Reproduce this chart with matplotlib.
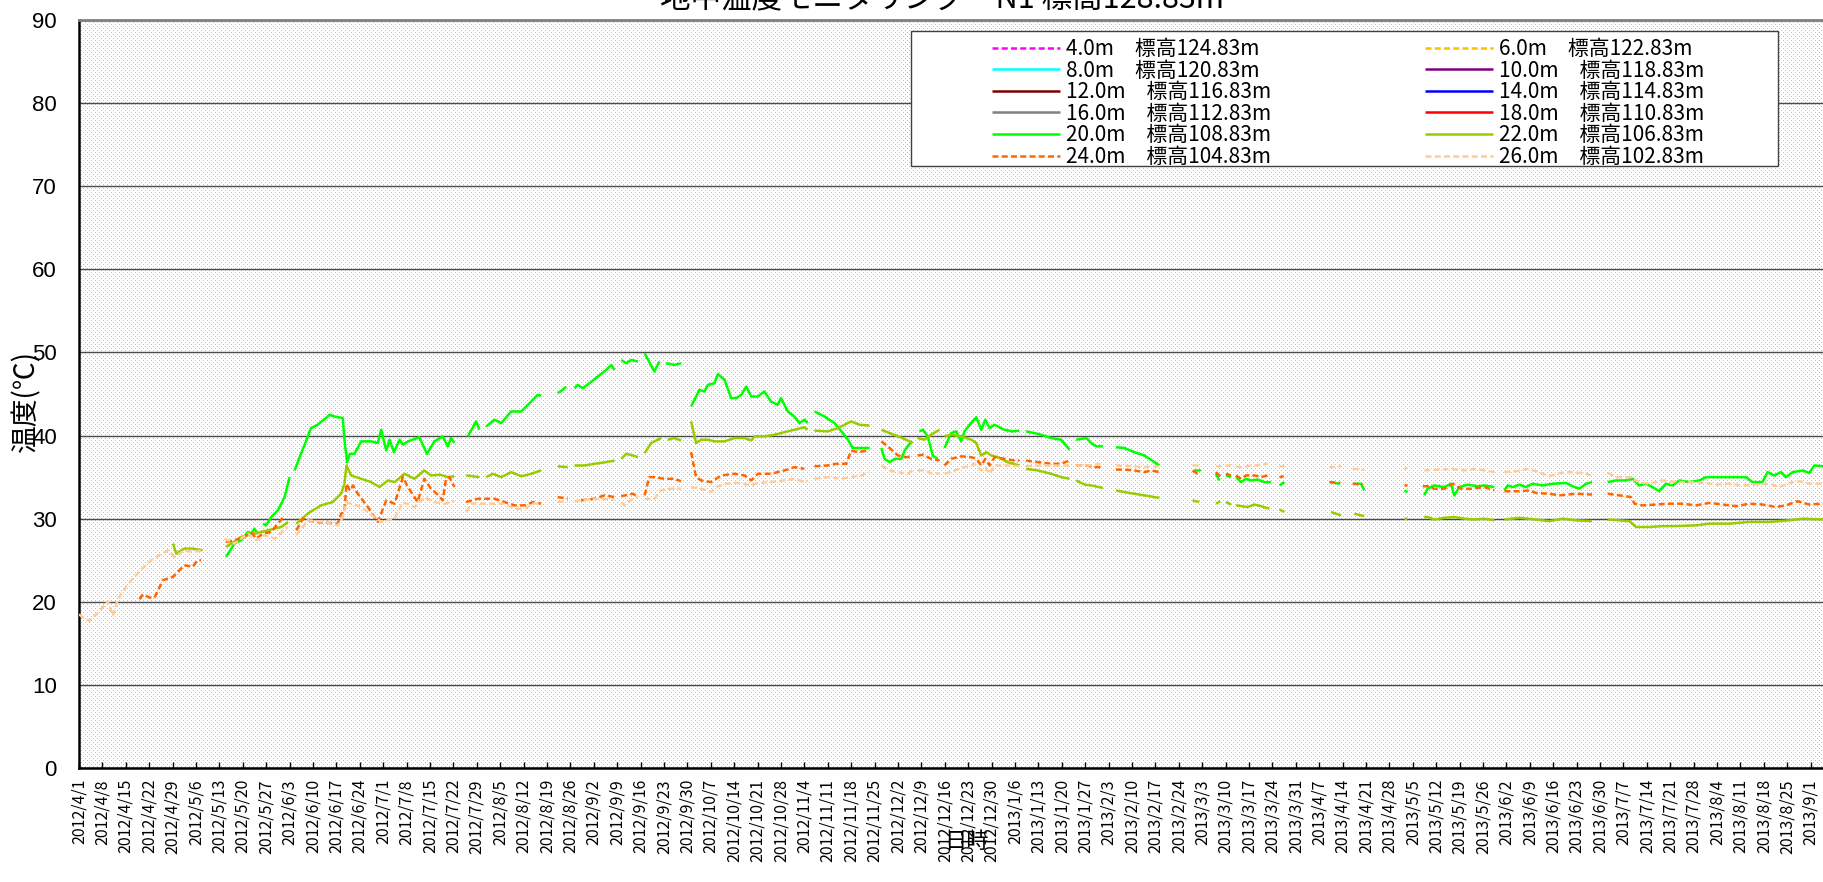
import numpy as np
import matplotlib
matplotlib.use("Agg")
import matplotlib.pyplot as plt
import matplotlib.dates as mdates
from matplotlib.ticker import FixedLocator, FuncFormatter
from matplotlib.patches import Rectangle

plt.rcParams['font.family'] = ['Liberation Sans', 'Noto Sans CJK JP', 'DejaVu Sans']
CJK = ['Noto Sans CJK JP', 'DejaVu Sans']

TITLE = "地中温度モニタリング　N1 標高128.83m"
X_LABEL = "日時"
Y_LABEL = "温度(℃)"
start_date = "2012-04-01"
end_date = "2013-09-05"
tick_start = "2012-04-01"
tick_end = "2013-09-01"
y_ticks = [0, 10, 20, 30, 40, 50, 60, 70, 80, 90]

depths = ["4.0", "6.0", "8.0", "10.0", "12.0", "14.0", "16.0", "18.0", "20.0", "22.0", "24.0", "26.0"]
elevations = ["124.83", "122.83", "120.83", "118.83", "116.83", "114.83",
              "112.83", "110.83", "108.83", "106.83", "104.83", "102.83"]
colors = ["#FF00FF", "#FFC000", "#00FFFF", "#800080", "#800000", "#0000FF",
          "#808080", "#FF0000", "#00FF00", "#99CC00", "#FF6600", "#FFCC99"]
dashed = [True, True, False, False, False, False, False, False, False, False, True, True]

# (days since 2012-04-01, temperature); None = gap in the record
t04 = []
t06 = []
t08 = []
t10 = []
t12 = []
t14 = []
t16 = []
t18 = []
t20 = [(44, 25.4), (46.5, 27.0), (48.5, 27.4), (50.5, 28.4), (51.5, 28.2), (52.5, 28.8), (53.3, 28.2), None,
       (55, 29.4), (56, 29.2), (57.5, 30.2), (59.5, 31.0), (61.5, 32.6), (63, 35.0), None,
       (64.5, 35.8), (66, 37.4), (67.5, 38.9), (69.4, 40.9), (71.4, 41.3), (75, 42.5), (76.4, 42.3), (78.9, 42.1),
       (79.4, 39.5), (80.2, 36.8), (81, 37.8), (82.4, 37.8), (84.4, 39.3), (87.4, 39.3), (89.4, 39.1), (90.4, 40.7),
       (91.9, 38.2), (92.9, 39.5), (94.2, 38.0), (95.9, 39.5), (96.9, 38.9), (98.4, 39.3), (101.8, 39.8),
       (104.1, 37.8), (106.3, 39.3), (108.8, 39.9), (110.3, 38.7), (111.3, 39.7), (112.3, 39.1), None,
       (116.3, 39.9), (118.8, 41.7), (119.8, 40.7), None,
       (121.8, 41.1), (124.3, 41.9), (126.3, 41.5), (129.3, 42.9), (132.3, 42.9), (135.3, 44.1), (137.2, 44.9), (138.2, 44.8), None,
       (143.2, 45.1), (144.7, 45.5), (145.7, 45.9), None,
       (148.2, 45.7), (149.2, 46.1), (150.7, 45.7), (152.7, 46.3), (155.2, 47.1), (157.7, 47.9), (159.2, 48.5), (160.2, 47.9), None,
       (162.2, 49.1), (163.7, 48.7), (165.2, 49.1), (167.2, 48.9), None,
       (169.2, 49.9), (172.1, 47.7), (173.6, 48.9), None,
       (175.6, 48.7), (178.1, 48.5), (180.1, 48.7), None,
       (183.1, 43.5), (184.1, 44.3), (185.6, 45.5), (187.1, 45.3), (188.1, 46.1), (190.1, 46.3), (191.1, 47.4), (193.1, 46.7),
       (195.1, 44.5), (196.6, 44.5), (198.1, 44.9), (199.6, 45.9), (201.1, 44.7), (203.1, 44.7), (205, 45.3), (207, 44.1),
       (209, 43.7), (210, 44.5), (212, 42.9), (214, 42.3), (215.5, 41.5), (217, 41.9), (218, 41.5), None,
       (220, 42.9), (223, 42.3), (226, 41.5), (228.5, 40.3), (230, 39.5), (231.5, 38.5), (233, 38.5), (236.5, 38.5), None,
       (240, 38.5), (241, 37.2), (242.5, 36.8), (244, 37.2), (246, 37.2), (247, 38.2), (249, 39.3), None,
       (251.4, 40.5), (252.4, 40.7), (253.9, 39.9), (255.4, 37.6), (256.9, 37.2), None,
       (258.9, 38.5), (260.9, 40.3), (262.4, 40.5), (263.9, 39.3), (264.9, 40.5), (266.4, 41.3), (268.4, 42.2), (269.9, 40.7),
       (271.1, 41.9), (272.4, 40.9), (273.9, 41.3), (276.8, 40.7), (279.3, 40.5), (281.3, 40.6), None,
       (283.3, 40.5), (285.8, 40.3), (287.8, 40.1), (290.8, 39.7), (293.8, 39.5), (296.3, 38.3), None,
       (298.3, 39.5), (301.3, 39.7), (302.8, 39.1), (304.3, 38.7), (306.3, 38.7), None,
       (310.2, 38.6), (312.7, 38.5), (315.7, 38.0), (318.7, 37.6), (321.7, 36.8), (323.2, 36.4), None,
       (333.6, 35.8), (335.6, 35.8), None,
       (340.1, 35.4), (341.1, 34.6), None,
       (343.1, 35.2), (344.6, 35.0), None,
       (346.1, 35.0), (347.6, 34.4), (349.1, 34.8), (350.6, 34.6), (352.6, 34.7), (354.6, 34.4), (356.6, 34.4), None,
       (359.1, 34.0), (360.6, 34.4), None,
       (374.5, 34.4), (377, 34.2), None,
       (381.5, 34.2), (383.5, 34.2), (384.5, 33.4), None,
       (396.5, 33.4), (397.4, 33.2), None,
       (402.4, 32.8), (403.4, 33.6), (405.4, 34.0), (408.4, 33.8), (410.4, 34.2), (411.4, 32.8), (412.9, 33.8),
       (415.4, 34.1), (418.4, 33.9), (420.4, 34.0), (423.4, 33.8), None,
       (426.4, 33.4), (427.4, 34.0), (429, 33.8), (430.9, 34.1), (432.8, 33.8), (434.8, 34.2), (437.8, 34.0), (440.8, 34.2),
       (444.8, 34.3), (446.8, 33.9), (448.8, 33.6), (450.8, 34.2), (452.6, 34.4), None,
       (457.3, 34.4), (459.8, 34.6), (462.8, 34.6), (464.8, 34.8), (466.7, 34.0), (468.7, 34.2), (470.7, 33.8), (472.7, 33.3),
       (474.7, 34.2), (476.7, 34.0), (478.7, 34.6), (481.7, 34.4), (484.7, 34.6), (486.7, 35.0), (490.7, 35.0), (494.7, 35.0),
       (498.7, 35.0), (500.6, 34.4), (503.6, 34.4), (505.1, 35.6), (507.1, 35.2), (509.1, 35.6), (510.6, 35.0), (512.6, 35.6),
       (515.6, 35.8), (517.6, 35.5), (519.1, 36.4), (521.8, 36.3)]
t22 = [(28.1, 27.0), (29.1, 25.8), (31.5, 26.4), (34, 26.4), (37, 26.2), None,
       (44, 26.6), (48.5, 27.8), (52.5, 28.2), (56.5, 28.6), (60.5, 29.0), (62.5, 29.6), None,
       (65, 29.4), (68.4, 30.6), (72.4, 31.6), (75.9, 32.0), (78.4, 33.0), (79.4, 34.2), (80, 36.4), (81.4, 35.2),
       (84.4, 34.8), (87.4, 34.4), (89.9, 33.8), (92.4, 34.6), (94.4, 34.4), (97.4, 35.4), (100.3, 34.8), (103.3, 35.8),
       (105.3, 35.2), (108, 35.3), (110.3, 35.0), (112.3, 35.1), None,
       (115.8, 35.2), (119.8, 35.0), None,
       (121.8, 35.0), (123.8, 35.4), (126.3, 35.0), (129.3, 35.6), (132.3, 35.1), (135.3, 35.4), (138.2, 35.8), None,
       (143.2, 36.3), (146.2, 36.2), None,
       (148.2, 36.4), (151.2, 36.4), (154.2, 36.6), (157.7, 36.8), (160.2, 37.0), None,
       (162.2, 37.2), (163.7, 37.8), (165.7, 37.6), (167.2, 37.4), None,
       (169.2, 37.9), (171.2, 39.1), (174.1, 39.7), None,
       (176.1, 39.5), (178.1, 39.7), (180.1, 39.4), None,
       (183.1, 41.7), (184.6, 39.1), (186.1, 39.5), (188.1, 39.5), (190.1, 39.3), (193.1, 39.3), (196.1, 39.7), (199.1, 39.7),
       (201.1, 39.4), (202.1, 39.9), (205, 39.9), (208, 40.1), (211, 40.4), (214, 40.7), (217, 41.0), (218, 40.7), None,
       (220, 40.6), (224, 40.5), (227, 40.9), (229, 41.3), (231, 41.7), (233.5, 41.3), (236.5, 41.2), None,
       (240, 40.7), (242.5, 40.3), (245, 39.9), (247.4, 39.5), (249.4, 39.1), None,
       (250.9, 39.7), (252.9, 39.5), (254.9, 40.1), (257.4, 40.7), None,
       (258.9, 39.9), (260.9, 40.1), (263.9, 39.9), (266.9, 39.5), (268.4, 39.1), (269.9, 37.6), (271.4, 38.0), (272.9, 37.6),
       (274.9, 37.4), (277.8, 36.8), (281.3, 36.4), None,
       (283.3, 36.0), (286.8, 35.8), (290.8, 35.4), (293.8, 35.0), (296.3, 34.8), None,
       (298.3, 34.6), (300.8, 34.1), (302.8, 34.0), (306.3, 33.7), None,
       (310.2, 33.4), (312.7, 33.2), (315.7, 33.0), (318.7, 32.8), (321.7, 32.6), (323.2, 32.5), None,
       (333.1, 32.2), (335.1, 32.0), None,
       (340.1, 31.8), (341.4, 32.1), None,
       (343.1, 32.0), (344.6, 31.7), None,
       (346.1, 31.6), (349.6, 31.4), (351.6, 31.7), (353.6, 31.5), (356.1, 31.2), None,
       (359.1, 31.1), (360.6, 30.8), None,
       (374.5, 30.8), (377.5, 30.4), None,
       (381.5, 30.6), (384.5, 30.3), None,
       (396.5, 30.0), (397.4, 30.0), None,
       (402.4, 30.2), (403.4, 30.2), (405.4, 29.9), (408.4, 30.1), (411.4, 30.2), (414.4, 30.0), (417.4, 29.9),
       (420.4, 30.0), (423.4, 29.8), None,
       (426.4, 29.9), (430.9, 30.1), (435.8, 29.9), (439.8, 29.7), (443.8, 30.0), (447.8, 29.8), (452.6, 29.7), None,
       (457.3, 29.9), (463.8, 29.7), (465.8, 29.0), (469.7, 29.0), (473.7, 29.1), (477.7, 29.1), (483.7, 29.2), (487.7, 29.4),
       (493.7, 29.4), (499.6, 29.6), (505.6, 29.6), (511.6, 29.8), (515.6, 30.0), (521.8, 29.9)]
t24 = [(18.1, 20.3), (19.1, 20.9), (21.1, 20.5), (22.6, 20.5), (25.1, 22.6), (28.1, 23.0), (31.5, 24.4), (34, 24.2),
       (35.5, 25.0), (36.5, 25.0), None,
       (44, 27.2), (46.5, 27.4), (49.5, 27.8), (51.5, 28.4), (53, 27.6), (55, 28.2), (57.5, 28.4), (59.5, 29.4), (61.5, 30.4), None,
       (65, 28.6), (67, 30.0), (70.4, 29.6), (74.4, 29.5), (77.4, 29.4), (78.4, 30.6), (79.4, 30.8), (80, 34.2), (81, 33.4),
       (82, 34.0), (83.4, 33.0), (86.4, 31.4), (89.4, 29.6), (91.9, 32.2), (94.4, 31.8), (96.9, 35.0), (98.4, 33.8),
       (101.3, 32.0), (103.3, 34.8), (105.3, 33.6), (107.3, 32.9), (108.8, 32.2), (109.8, 34.8), (110.8, 35.0), (112.3, 33.8), None,
       (115.8, 32.0), (119.3, 32.4), (124.3, 32.4), (127.3, 32.0), (130.3, 31.6), (133.3, 31.6), (135.8, 32.0), (138.2, 31.8), None,
       (143.2, 32.6), (146.2, 32.4), None,
       (150.2, 32.2), (154.2, 32.4), (157.2, 32.8), (160.2, 32.6), None,
       (162.2, 32.7), (165.7, 33.0), (167.2, 32.6), None,
       (169.2, 32.8), (170.6, 35.0), (172.1, 35.0), (175.1, 34.8), (178.1, 34.8), (180.1, 34.5), None,
       (183.1, 38.0), (184.6, 35.0), (186.1, 34.6), (189.1, 34.4), (192.1, 35.2), (196.1, 35.4), (199.1, 35.2), (201.1, 34.6),
       (203.1, 35.4), (207, 35.4), (211, 35.8), (214, 36.2), (217, 36.0), None,
       (220, 36.3), (224, 36.4), (226.5, 36.6), (229.5, 36.6), (231, 38.2), (233, 38.0), (236, 38.2), None,
       (240, 39.3), (242.5, 38.5), (245, 37.6), (247.4, 37.4), (249.4, 37.5), None,
       (250.9, 37.6), (252.4, 37.7), (254.9, 37.2), (257.4, 37.0), None,
       (258.9, 36.4), (260.9, 37.2), (263.9, 37.5), (266.9, 37.4), (268.4, 37.2), (269.9, 36.4), (271.1, 37.2), (272.4, 36.4),
       (273.9, 37.4), (276.8, 37.2), (279.8, 37.0), (281.3, 37.0), None,
       (283.3, 37.0), (286.8, 36.8), (290.8, 36.6), (293.8, 36.6), (296.3, 37.0), None,
       (298.3, 36.4), (301.3, 36.4), (303.8, 36.2), (306.3, 36.2), None,
       (310.2, 35.9), (312.7, 35.9), (315.7, 35.8), (318.7, 35.6), (320.7, 35.8), (323.2, 35.6), None,
       (333.1, 35.8), (334.6, 35.4), None,
       (340.1, 35.6), (341.6, 35.0), None,
       (343.1, 35.4), (344.6, 35.2), None,
       (346.1, 35.2), (347.6, 34.8), (349.1, 35.2), (351.6, 35.2), (353.6, 35.0), (355.6, 35.2), None,
       (359.1, 35.0), (360.4, 35.1), None,
       (374, 34.4), (377.3, 34.3), None,
       (381, 34.2), (384, 34.1), None,
       (396.5, 34.0), (397.4, 34.0), None,
       (402, 33.9), (403.4, 33.9), (405.4, 33.6), (408.4, 33.6), (410.9, 34.2), (413.4, 33.6), (416.4, 33.6), (420.4, 33.8),
       (423.4, 33.4), None,
       (426.4, 33.3), (430.9, 33.3), (433.8, 33.4), (435.8, 33.1), (439.8, 33.0), (442.8, 32.8), (447.8, 33.0), (452.6, 32.9), None,
       (457.3, 33.0), (460.8, 32.8), (464.3, 32.6), (465.3, 31.8), (467.7, 31.6), (471.7, 31.7), (475.7, 31.8), (479.7, 31.8),
       (483.7, 31.6), (487.7, 31.9), (491.7, 31.7), (495.7, 31.5), (499.6, 31.8), (503.6, 31.7), (507.6, 31.4), (510.6, 31.6),
       (514.1, 32.1), (517.6, 31.7), (521.8, 31.8)]
t26 = [(0, 18.5), (1.5, 18.0), (3.1, 17.7), (6, 18.8), (8.6, 20.1), (10.1, 18.3), (11.6, 20.3), (14, 21.8), (16.6, 23.0),
       (19, 24.0), (21.6, 25.0), (24, 25.6), (26.6, 26.2), (28.6, 25.4), (31.5, 26.2), (34, 26.0), (37, 26.2), None,
       (43.5, 27.6), (46.5, 27.0), (50.5, 28.2), (53, 27.4), (55.5, 28.0), (58.5, 27.6), (62.5, 29.0), None,
       (65, 28.0), (68.4, 29.8), (73.4, 29.6), (77.4, 29.2), (79, 30.2), (80, 32.0), (84.4, 31.4), (88.4, 30.2), (90.4, 29.6),
       (94.4, 30.0), (96.9, 32.0), (100.3, 31.4), (103.3, 32.6), (106.3, 32.0), (109.3, 31.8), (112.3, 32.1), None,
       (115.8, 30.8), (117.3, 31.8), (122.3, 31.8), (127.3, 31.8), (130.3, 31.2), (133.3, 31.2), (135.8, 31.8), (138.2, 31.8), None,
       (143.2, 32.0), (146.2, 32.1), None,
       (148.2, 32.1), (152.2, 32.3), (156.2, 32.4), (160.2, 32.3), None,
       (162.2, 32.0), (163.2, 31.6), (165.7, 32.4), (167.2, 32.6), None,
       (169.2, 32.4), (172.1, 32.4), (174.1, 33.4), (177.1, 33.6), (180.1, 33.6), None,
       (183.1, 33.8), (186.1, 33.6), (189.1, 33.2), (190.6, 33.8), (193.1, 34.2), (197.1, 34.3), (201.1, 34.0), (203.1, 34.3),
       (207, 34.4), (211, 34.6), (214, 34.8), (217, 34.4), (218, 34.6), None,
       (220, 34.8), (224, 35.0), (228, 34.8), (231, 35.0), (234, 35.2), (236.5, 35.6), None,
       (240, 36.4), (242.5, 35.8), (245, 35.6), (247.9, 35.4), (249.4, 35.8), None,
       (250.9, 35.8), (252.4, 35.8), (254.9, 35.5), (257.4, 35.4), None,
       (258.9, 35.4), (261.9, 35.8), (264.9, 36.2), (267.9, 36.6), (269.9, 35.8), (271.1, 36.2), (272.4, 35.4), (273.9, 36.4),
       (277.8, 36.4), (281.3, 36.3), None,
       (283.3, 36.3), (287.8, 36.4), (292.8, 36.4), (296.3, 36.4), None,
       (298.3, 36.4), (301.8, 36.4), (306.3, 36.6), None,
       (310.2, 36.4), (315.7, 36.3), (317.7, 36.2), (323.2, 36.3), None,
       (333.1, 36.4), (335.1, 36.4), None,
       (340.1, 36.3), (341.6, 36.3), None,
       (343.1, 36.4), (344.6, 36.4), None,
       (346.1, 36.3), (347.6, 36.2), (351.6, 36.4), (355.6, 36.6), None,
       (359.1, 36.3), (360.6, 36.3), None,
       (374, 36.2), (377.5, 36.3), None,
       (381, 36.0), (384.5, 35.9), None,
       (396.5, 36.0), (397.4, 36.1), None,
       (402.4, 35.8), (406.4, 35.9), (410.4, 36.0), (414.4, 35.8), (417.4, 36.0), (420.4, 35.8), (423.4, 35.6), None,
       (426.4, 35.6), (429.9, 35.7), (433.3, 36.0), (436.8, 35.6), (439.8, 35.1), (442.8, 35.5), (445.8, 35.6), (449.8, 35.5),
       (452.6, 35.2), None,
       (457.3, 35.5), (459.8, 35.0), (463.8, 35.0), (466.7, 34.4), (469.7, 34.2), (473.7, 34.6), (477.7, 34.4), (481.7, 34.4),
       (485.7, 34.3), (489.7, 34.1), (493.7, 34.2), (497.7, 34.0), (501.7, 34.1), (505.6, 34.2), (508.6, 33.8), (511.6, 34.3),
       (514.6, 34.5), (517.6, 34.2), (521.8, 34.2)]

series = [t04, t06, t08, t10, t12, t14, t16, t18, t20, t22, t24, t26]

# ---------------- layout (pixels) ----------------
W, H = 1824, 882
AX_L, AX_R, AX_T, AX_B = 79, 1824, 20, 768

fig = plt.figure(figsize=(W / 100, H / 100), dpi=100)
fig.patch.set_facecolor('white')
ax = fig.add_axes([AX_L / W, 1 - AX_B / H, (AX_R - AX_L) / W, (AX_B - AX_T) / H])
ax.patch.set_visible(False)

# dotted background of the plot area
aw, ah = AX_R - AX_L, AX_B - AX_T
ii, jj = np.mgrid[0:ah, 0:aw]
dots = ((ii % 4 == 0) & (jj % 4 == 0)) | ((ii % 4 == 2) & (jj % 4 == 2))
bg = np.where(dots, 0.74, 1.0)
fig.figimage(bg, xo=AX_L, yo=H - AX_B, cmap='gray', vmin=0, vmax=1, zorder=-1)

base = mdates.date2num(np.datetime64(start_date))
handles = []
for s, c, dsh in zip(series, colors, dashed):
    xs = np.array([base + p[0] if p is not None else np.nan for p in s], dtype=float)
    ys = np.array([p[1] if p is not None else np.nan for p in s], dtype=float)
    ls = (0, (2.4, 1.3)) if dsh else '-'
    ln, = ax.plot(xs, ys, color=c, lw=1.8, linestyle=ls, solid_capstyle='butt', zorder=3)
    handles.append(ln)

ax.set_xlim(base, mdates.date2num(np.datetime64(end_date)))
ax.set_ylim(0, 90)

ticks = mdates.date2num(np.arange(np.datetime64(tick_start), np.datetime64(tick_end) + np.timedelta64(1, 'D'),
                                  np.timedelta64(7, 'D')))
ax.xaxis.set_major_locator(FixedLocator(ticks))

def fmt_date(x, pos=None):
    d = mdates.num2date(x)
    return f"{d.year}/{d.month}/{d.day}"

ax.xaxis.set_major_formatter(FuncFormatter(fmt_date))
ax.tick_params(axis='x', direction='in', length=4, width=1, labelrotation=90, pad=8)
for lab in ax.get_xticklabels():
    lab.set_fontfamily(CJK)
    lab.set_fontsize(11.5)
ax.set_yticks(y_ticks)
ax.tick_params(axis='y', length=0, labelsize=16, pad=16)

ax.set_axisbelow(True)
ax.yaxis.grid(True, color='#4a4a4a', lw=1.0)
ax.xaxis.grid(False)

ax.spines['right'].set_visible(False)
ax.spines['left'].set_color('black')
ax.spines['left'].set_linewidth(1.8)
ax.spines['bottom'].set_color('black')
ax.spines['bottom'].set_linewidth(1.8)
ax.spines['top'].set_color('#808080')
ax.spines['top'].set_linewidth(2.0)

ax.set_ylabel(Y_LABEL, fontsize=20, family=CJK, va='center')
ax.yaxis.set_label_coords((26 - AX_L) / aw, (AX_B - 401) / ah)
ax.set_xlabel(X_LABEL, fontsize=16, family=CJK, va='center')
ax.xaxis.set_label_coords((966 - AX_L) / aw, (AX_B - 841) / ah)

fig.text(942 / W, 1 - 7.5 / H, TITLE, ha='center', va='baseline', fontsize=22, family=CJK)

# legend box and two legend columns
fig.add_artist(Rectangle((911 / W, 1 - 166 / H), 867 / W, 135 / H, transform=fig.transFigure,
                         facecolor='white', edgecolor='#404040', lw=1.0, zorder=4))
labels = [f"{d}m\u3000標高{e}m" for d, e in zip(depths, elevations)]
fs = 15
fs_px = fs * 100 / 72
for col, x_px in ((0, 992), (1, 1425)):
    idx = list(range(col, 12, 2))
    fig.legend([handles[i] for i in idx], [labels[i] for i in idx], loc='upper left',
               bbox_to_anchor=(x_px / W, 1 - 38 / H), bbox_transform=fig.transFigure,
               frameon=False, borderpad=0, borderaxespad=0, handlelength=68 / fs_px,
               handletextpad=6 / fs_px, labelspacing=-0.02, prop={'family': CJK, 'size': fs})

fig.savefig("out.png", dpi=100)
